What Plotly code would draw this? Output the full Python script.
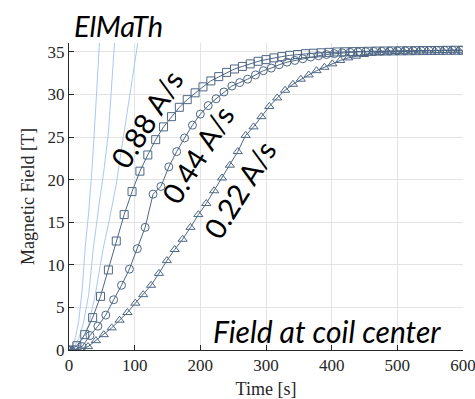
import plotly.graph_objects as go

# ---- data ----
sq_t = [0, 12, 24, 36, 48, 60, 72, 84, 96, 108, 120, 132, 144, 156, 168, 180, 192, 204, 216, 228,
        240, 252, 264, 276, 288, 300, 312, 324, 336, 348, 360, 372, 384, 396, 408, 420, 432, 444,
        456, 468, 480, 492, 504, 516, 528, 540, 552, 564, 576, 588, 600]
sq_b = [0, 0.5, 1.8, 3.8, 6.3, 9.4, 12.8, 15.9, 18.6, 21.0, 22.9, 24.7, 26.2, 27.4, 28.5, 29.4,
        30.2, 30.9, 31.6, 32.1, 32.6, 33.0, 33.3, 33.6, 33.9, 34.1, 34.3, 34.45, 34.6, 34.7, 34.8,
        34.85, 34.9, 34.95, 35.0, 35.02, 35.04, 35.06, 35.08, 35.1, 35.11, 35.12, 35.13, 35.14,
        35.15, 35.16, 35.17, 35.18, 35.19, 35.2, 35.2]

ci_t = [0, 8, 20, 32, 44, 56, 68, 80, 92, 104, 116, 128, 140, 152, 164, 176, 188, 200, 212, 224,
        236, 248, 260, 272, 284, 296, 308, 320, 332, 344, 356, 368, 380, 392, 404, 416, 428, 440,
        452, 464, 476, 488, 500, 512, 524, 536, 548, 560, 572, 584, 596]
ci_b = [0, 0.05, 0.4, 1.7, 2.8, 4.1, 5.9, 7.6, 9.5, 11.9, 14.4, 18.3, 19.2, 21.5, 23.3, 24.9,
        26.4, 27.7, 28.7, 29.5, 30.3, 31.0, 31.4, 31.8, 32.3, 32.8, 33.1, 33.5, 33.8, 34.0, 34.2,
        34.4, 34.55, 34.7, 34.8, 34.9, 34.95, 35.0, 35.03, 35.06, 35.08, 35.1, 35.12, 35.13,
        35.14, 35.15, 35.16, 35.17, 35.18, 35.19, 35.2]

tr_t = [0, 5, 17, 29, 41, 53, 65, 77, 89, 101, 113, 125, 137, 149, 161, 173, 185, 197, 209, 221,
        233, 245, 257, 269, 281, 293, 305, 317, 329, 341, 353, 365, 377, 389, 401, 413, 425, 437,
        449, 461, 473, 485, 497, 509, 521, 533, 545, 557, 569, 581, 593]
tr_b = [0, 0.02, 0.1, 0.4, 1.1, 1.8, 2.6, 3.5, 4.4, 5.5, 6.5, 7.6, 9.0, 10.5, 11.8, 13.0, 14.4,
        15.9, 17.2, 18.7, 20.2, 21.7, 23.3, 25.2, 26.2, 27.4, 28.6, 29.6, 30.5, 31.2, 31.8, 32.3,
        32.8, 33.2, 33.6, 34.0, 34.3, 34.5, 34.7, 34.85, 34.95, 35.0, 35.05, 35.08, 35.1, 35.12,
        35.14, 35.16, 35.17, 35.18, 35.2]

# thin light-blue guide curves
g1_t = [0, 5, 10, 15, 20, 25, 30, 35, 40, 46.5]
g1_b = [0, 0.4, 1.5, 3.5, 7.0, 12.3, 16.2, 21.2, 27.5, 36.2]
g2_t = [0, 8, 15, 22, 30, 37, 46, 53, 60, 65, 69.5]
g2_b = [0, 0.4, 1.4, 3.2, 6.5, 11.9, 17.2, 21.0, 25.5, 30.5, 36.2]
g3_t = [0, 10, 20, 30, 40, 52, 62, 72, 80, 90, 97, 105]
g3_b = [0, 0.3, 1.2, 3.0, 6.5, 11.9, 15.5, 19.5, 23.6, 28.5, 32.0, 36.2]

x_ticks = [0, 100, 200, 300, 400, 500, 600]
y_ticks = [0, 5, 10, 15, 20, 25, 30, 35]

labels = ["0.88 A/s", "0.44 A/s", "0.22 A/s"]
label_x = [118, 195, 259]
label_y = [27.2, 23.0, 18.9]

DARK = "#4e6785"
LIGHT = "#a9c9f2"

fig = go.Figure()
for gt, gb in [(g1_t, g1_b), (g2_t, g2_b), (g3_t, g3_b)]:
    fig.add_trace(go.Scatter(x=gt, y=gb, mode="lines", line=dict(color=LIGHT, width=1),
                             hoverinfo="skip", showlegend=False))

for t, b, sym in [(tr_t, tr_b, "triangle-up-open"), (ci_t, ci_b, "circle-open"),
                  (sq_t, sq_b, "square-open")]:
    fig.add_trace(go.Scatter(x=t, y=b, mode="lines+markers",
                             line=dict(color=DARK, width=1),
                             marker=dict(symbol=sym, size=8, color=DARK,
                                         line=dict(width=1, color=DARK)),
                             showlegend=False))

for txt, lx, ly in zip(labels, label_x, label_y):
    fig.add_annotation(x=lx, y=ly, text=txt, showarrow=False, textangle=-58,
                       font=dict(family="Lato", size=29, color="black"))

fig.add_annotation(x=0.95, y=0.062, xref="paper", yref="paper", xanchor="right", yanchor="middle",
                   text="<i>Field at coil center</i>", showarrow=False,
                   font=dict(family="Lato", size=30, color="black"))
fig.add_annotation(x=0.008, y=1.0, xref="paper", yref="paper", xanchor="left", yanchor="bottom",
                   text="<i>ElMaTh</i>", showarrow=False, yshift=-2,
                   font=dict(family="Lato", size=29, color="black"))

fig.update_layout(
    width=475, height=399,
    margin=dict(l=69, r=12, t=43, b=49, autoexpand=False),
    paper_bgcolor="white", plot_bgcolor="white",
    font=dict(family="Liberation Serif", size=17, color="#262626"),
)
fig.update_xaxes(range=[0, 600], tickvals=x_ticks, showgrid=True, gridcolor="#e3e3e3",
                 gridwidth=1, zeroline=False, showline=True, linecolor="#262626", linewidth=1,
                 ticks="inside", ticklen=5, tickcolor="#262626", automargin=False,
                 ticklabeloverflow="allow",
                 title=dict(text="Time [s]", standoff=12, font=dict(size=18)))
fig.update_yaxes(range=[0, 36.05], tickvals=y_ticks, showgrid=True, gridcolor="#e3e3e3",
                 gridwidth=1, zeroline=False, showline=True, linecolor="#262626", linewidth=1,
                 ticks="inside", ticklen=5, tickcolor="#262626", automargin=False,
                 ticklabeloverflow="allow",
                 title=dict(text="Magnetic Field [T]", standoff=8, font=dict(size=18)))

# remove the default page margin so the 475x399 figure fills the window exactly
fig.write_html("out.html", config={"displayModeBar": False},
               post_script="document.body.style.margin='0';document.body.style.overflow='hidden';")
